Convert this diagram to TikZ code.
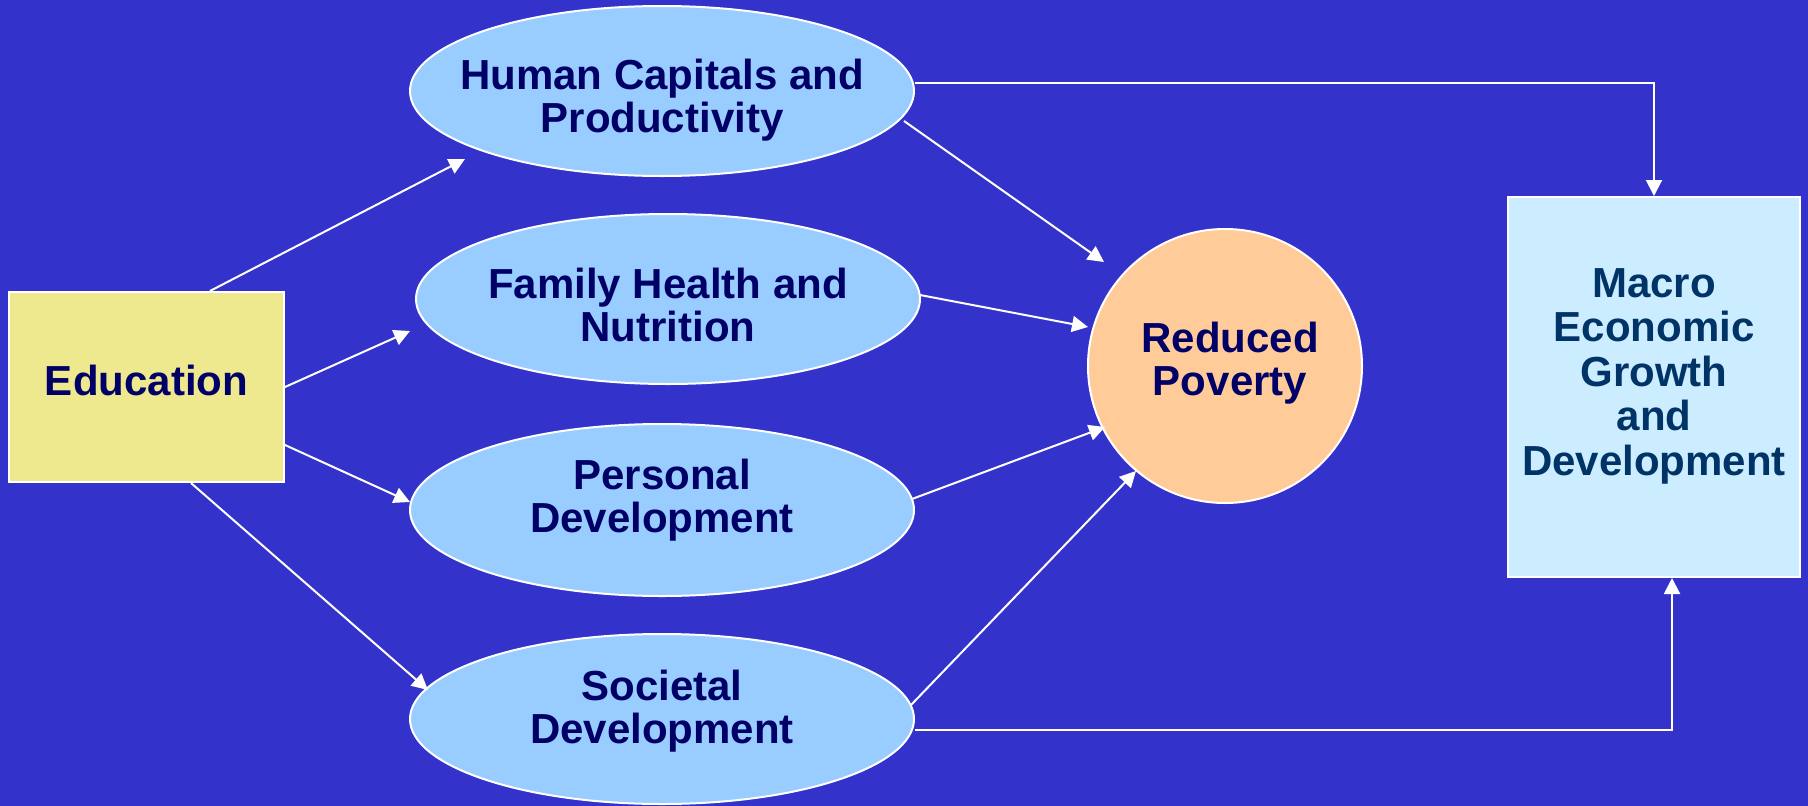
\documentclass[tikz,border=0pt]{standalone}
\usepackage{fontspec}
\setmainfont{Liberation Sans}
\usetikzlibrary{arrows.meta,shapes.geometric}
\definecolor{bg}{RGB}{51,51,204}
\definecolor{ellblue}{RGB}{153,204,255}
\definecolor{peach}{RGB}{255,204,153}
\definecolor{khaki}{RGB}{238,232,142}
\definecolor{paleblue}{RGB}{204,236,255}
\definecolor{navy}{RGB}{0,0,102}
\definecolor{darkteal}{RGB}{0,51,102}
\begin{document}
\begin{tikzpicture}[x=1pt,y=-1pt,
  txt/.style={font=\fontsize{42}{43}\selectfont\bfseries, align=center, text=navy, inner sep=0pt},
  ell/.style={ellipse, draw=white, line width=2pt, fill=ellblue, minimum width=504pt, minimum height=170pt, inner sep=0pt},
  box/.style={rectangle, draw=white, line width=2pt, inner sep=0pt},
  arr/.style={draw=white, line width=2pt, -{Triangle[length=16pt,width=16pt]}}]
\fill[bg] (0,0) rectangle (1808,806);
\useasboundingbox (0,0) rectangle (1808,806);
% nodes
\node[box, fill=khaki, minimum width=275pt, minimum height=190pt] (edu) at (146.5,387) {};
\node[txt] (edut) at (146.5,380) {Education};
\node[ell] (hc) at (662,91) {};
\node[txt] (hct) at (662,100) {Human Capitals and\\Productivity};
\node[ell] (fh) at (668,299) {};
\node[txt] (fht) at (668,305) {Family Health and\\Nutrition};
\node[ell, minimum height=172pt] (pd) at (662,510) {};
\node[txt] (pdt) at (662,500) {Personal\\Development};
\node[ell] (sd) at (662,719) {};
\node[txt] (sdt) at (662,711) {Societal\\Development};
\node[circle, draw=white, line width=2pt, fill=peach, minimum size=274pt, inner sep=0pt] (rp) at (1225,366) {};
\node[txt] (rpt) at (1230,363) {Reduced\\Poverty};
\node[box, fill=paleblue, minimum width=292pt, minimum height=380pt] (mac) at (1654,387) {};
\node[txt, text=darkteal, font=\fontsize{42}{44.5}\selectfont\bfseries] (mact) at (1654,376) {Macro\\Economic\\Growth\\and\\Development};
% connectors
\draw[arr] ([shift={(63.5,0)}]edu.north) -- ([shift={(-197,68)}]hc.center);
\draw[arr] (edu.east) -- ([shift={(-258,32)}]fh.center);
\draw[arr] ([shift={(0,58)}]edu.east) -- ([shift={(-252,-8)}]pd.center);
\draw[arr] ([shift={(44.5,0)}]edu.south) -- ([shift={(-234,-29)}]sd.center);
\draw[arr] ([shift={(242,30)}]hc.center) -- ([shift={(-121,-104)}]rp.center);
\draw[arr] ([shift={(252,-4)}]fh.center) -- ([shift={(-137,-39)}]rp.center);
\draw[arr] ([shift={(250,-11)}]pd.center) -- ([shift={(-120,61)}]rp.center);
\draw[arr] ([shift={(249,-14)}]sd.center) -- ([shift={(-89,105)}]rp.center);
\draw[arr] ([shift={(0,-8)}]hc.east) -| (mac.north);
\draw[arr] ([shift={(0,11)}]sd.east) -| ([shift={(18,0)}]mac.south);
\end{tikzpicture}
\end{document}
